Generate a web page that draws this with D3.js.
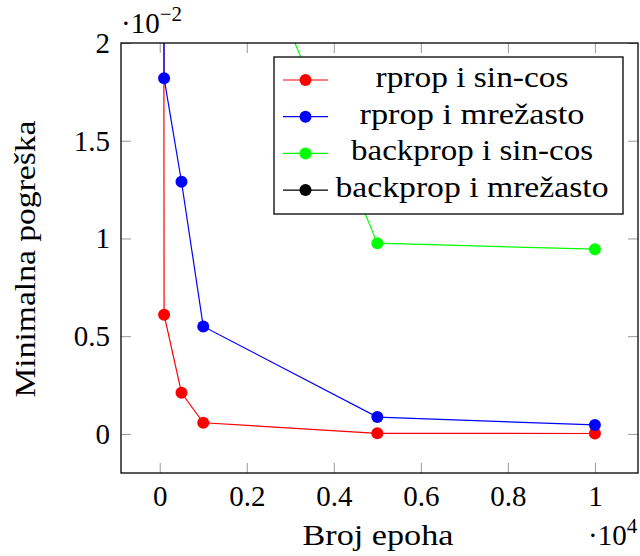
<!DOCTYPE html>
<html>
<head>
<meta charset="utf-8">
<script src="https://cdn.jsdelivr.net/npm/d3@7"></script>
<style>
  body { margin: 0; background: #fff; }
  svg { font-family: "Liberation Serif", "Times New Roman", serif; }
</style>
</head>
<body>
<div id="chart"></div>
<script>
// broj epoha (x) i minimalna pogreska po metodi (y)
const epochs = [10, 100, 500, 1000, 5000, 10000]
const rpropSinCos = [0.25, 0.0061, 0.0021, 0.00057, 0.00003, 0.00002]
const rpropMrezasto = [0.35, 0.0182, 0.0129, 0.0055, 0.00086, 0.00046]
const backpropSinCos = [0.45, 0.09, 0.05, 0.0314, 0.00976, 0.00945]
const backpropMrezasto = [0.6, 0.3, 0.15, 0.1, 0.06, 0.05]
const seriesNames = ['rprop i sin-cos', 'rprop i mrežasto', 'backprop i sin-cos', 'backprop i mrežasto']
const seriesColors = ['#ff0000', '#0000ff', '#00ff00', '#000000']
const xTicks = [0, 2000, 4000, 6000, 8000, 10000]
const yTicks = [0, 0.005, 0.01, 0.015, 0.02]

const series = [rpropSinCos, rpropMrezasto, backpropSinCos, backpropMrezasto].map((vals, i) => ({
  name: seriesNames[i],
  color: seriesColors[i],
  points: epochs.map((e, j) => ({ x: e, y: vals[j] }))
}))

const W = 640
const H = 556
const box = { left: 121, right: 638, top: 43, bottom: 473 }
const fs = 29
// sirine natpisa iz predloska (Computer Modern je siri od Times)
const legendWidths = [193, 225, 242, 273]

const svg = d3.select('#chart').append('svg')
  .attr('width', W)
  .attr('height', H)

// pgfplots: 10% prosirenje raspona x
const x = d3.scaleLinear().domain([-890, 10990]).range([box.left, box.right])
const y = d3.scaleLinear().domain([-0.002, 0.02]).range([box.bottom, box.top])

svg.append('clipPath').attr('id', 'clip')
  .append('rect')
  .attr('x', box.left).attr('y', box.top)
  .attr('width', box.right - box.left).attr('height', box.bottom - box.top)

// osi s kvacicama prema unutra
const tickLen = 10
const styleAxis = g => {
  g.attr('font-family', null).attr('font-size', null)
  g.select('.domain').remove()
  g.selectAll('.tick line').attr('stroke', '#999').attr('stroke-width', 1)
  g.selectAll('.tick text').attr('fill', '#000').attr('font-size', fs)
}
svg.append('g')
  .attr('transform', `translate(0, ${box.bottom})`)
  .call(d3.axisBottom(x).tickValues(xTicks).tickSize(-tickLen).tickPadding(12)
    .tickFormat(d => d3.format('~g')(d / 10000)))
  .call(styleAxis)
svg.append('g')
  .attr('transform', `translate(0, ${box.top})`)
  .call(d3.axisTop(x).tickValues(xTicks).tickSize(-tickLen).tickFormat(''))
  .call(styleAxis)
svg.append('g')
  .attr('transform', `translate(${box.left}, 0)`)
  .call(d3.axisLeft(y).tickValues(yTicks).tickSize(-tickLen).tickPadding(11)
    .tickFormat(d => d3.format('~g')(Math.round(d * 1000) / 10)))
  .call(styleAxis)
svg.append('g')
  .attr('transform', `translate(${box.right}, 0)`)
  .call(d3.axisRight(y).tickValues(yTicks).tickSize(-tickLen).tickFormat(''))
  .call(styleAxis)

// podaci
const line = d3.line().x(d => x(d.x)).y(d => y(d.y))
const plot = svg.append('g').attr('clip-path', 'url(#clip)')
series.forEach(s => {
  plot.append('path')
    .datum(s.points)
    .attr('fill', 'none')
    .attr('stroke', s.color)
    .attr('stroke-width', 1.2)
    .attr('d', line)
  plot.selectAll(null)
    .data(s.points)
    .enter()
    .append('circle')
    .attr('cx', d => x(d.x))
    .attr('cy', d => y(d.y))
    .attr('r', 6)
    .attr('fill', s.color)
})

// okvir
svg.append('rect')
  .attr('x', box.left).attr('y', box.top)
  .attr('width', box.right - box.left).attr('height', box.bottom - box.top)
  .attr('fill', 'none')
  .attr('stroke', '#000')
  .attr('stroke-width', 1.3)

// legenda
const legend = svg.append('g').attr('transform', 'translate(274, 57)')
legend.append('rect')
  .attr('width', 349).attr('height', 157)
  .attr('fill', '#fff').attr('stroke', '#000').attr('stroke-width', 1.3)
const rows = legend.selectAll('g.row')
  .data(series)
  .enter()
  .append('g')
  .attr('transform', (d, i) => `translate(0, ${23 + i * 36.7})`)
rows.append('line')
  .attr('x1', 9).attr('x2', 54)
  .attr('stroke', d => d.color).attr('stroke-width', 1.2)
rows.append('circle')
  .attr('cx', 31.5).attr('r', 6).attr('fill', d => d.color)
rows.append('text')
  .attr('x', 198)
  .attr('y', 7)
  .attr('text-anchor', 'middle')
  .attr('font-size', fs)
  .attr('textLength', (d, i) => legendWidths[i])
  .attr('lengthAdjust', 'spacingAndGlyphs')
  .text(d => d.name)

// natpisi osi
svg.append('text')
  .attr('x', 378).attr('y', 545)
  .attr('text-anchor', 'middle')
  .attr('font-size', fs)
  .attr('textLength', 151)
  .attr('lengthAdjust', 'spacingAndGlyphs')
  .text('Broj epoha')
svg.append('text')
  .attr('transform', 'translate(35, 259) rotate(-90)')
  .attr('text-anchor', 'middle')
  .attr('font-size', fs)
  .attr('textLength', 277)
  .attr('lengthAdjust', 'spacingAndGlyphs')
  .text('Minimalna pogreška')

// faktori skale
const xf = svg.append('text').attr('x', 588).attr('y', 545).attr('font-size', fs)
xf.append('tspan').text('·10')
xf.append('tspan').attr('dy', -12).attr('font-size', 21).text('4')
const yf = svg.append('text').attr('x', 121).attr('y', 33).attr('font-size', fs)
yf.append('tspan').text('·10')
yf.append('tspan').attr('dy', -12).attr('font-size', 21).text('−2')
</script>
</body>
</html>
